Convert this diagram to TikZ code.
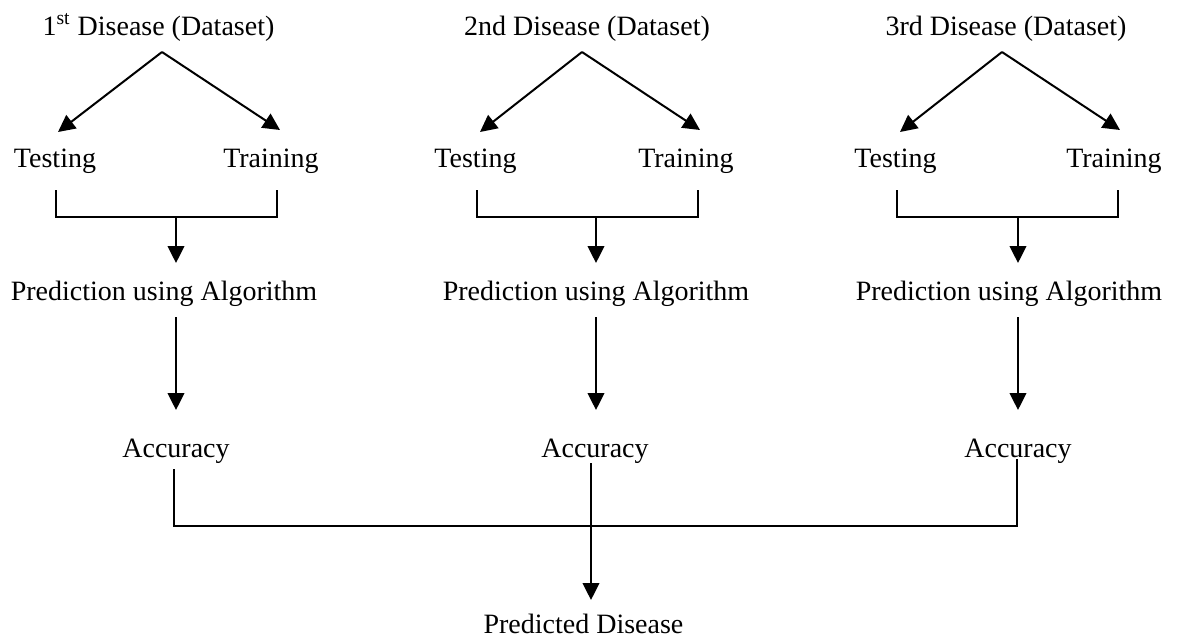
\documentclass[tikz,border=0pt]{standalone}
\usepackage{fontspec}
\setmainfont{Liberation Serif}
\usetikzlibrary{arrows.meta}
\begin{document}
\begin{tikzpicture}[x=0.5pt,y=-0.5pt,
  lbl/.style={anchor=base,inner sep=0pt,font=\fontsize{14}{16}\selectfont},
  ln/.style={line width=0.75pt},
  arr/.style={line width=1pt,-{Triangle[length=8.5pt,width=8.3pt]}}]
\useasboundingbox (0,0) rectangle (1185,639);
% column centres: titles, apexes
\node[lbl] (d1) at (158.5,35) {1\textsuperscript{st} Disease (Dataset)};
\node[lbl] (d2) at (587,35) {2nd Disease (Dataset)};
\node[lbl] (d3) at (1006,35) {3rd Disease (Dataset)};
\node[lbl] (te1) at (55,167) {Testing};
\node[lbl] (tr1) at (271,167) {Training};
\node[lbl] (te2) at (475.5,167) {Testing};
\node[lbl] (tr2) at (686,167) {Training};
\node[lbl] (te3) at (895.5,167) {Testing};
\node[lbl] (tr3) at (1114,167) {Training};
\node[lbl] (p1) at (164,300) {Prediction using Algorithm};
\node[lbl] (p2) at (596,300) {Prediction using Algorithm};
\node[lbl] (p3) at (1009,300) {Prediction using Algorithm};
\node[lbl] (a1) at (176,457) {Accuracy};
\node[lbl] (a2) at (595,457) {Accuracy};
\node[lbl] (a3) at (1018,457) {Accuracy};
\node[lbl] (pd) at (583.5,633) {Predicted Disease};
% split arrows
\foreach \i/\ax/\lx/\rx in {1/162/58/280, 2/582/480/700, 3/1002/900/1120}{
  \coordinate (ap\i) at (\ax,52);
  \coordinate (lt\i) at (\lx,132);
  \coordinate (rt\i) at (\rx,130);
  \draw[arr] (ap\i) -- (lt\i);
  \draw[arr] (ap\i) -- (rt\i);
}
% brackets and arrows to prediction
\foreach \i/\l/\r/\m in {1/56/277/176, 2/477/698/596, 3/897/1118/1018}{
  \coordinate (bl\i) at (\l,190);
  \coordinate (br\i) at (\r,190);
  \coordinate (bm\i) at (\m,217);
  \coordinate (pt\i) at (\m,263);
  \coordinate (ps\i) at (\m,317);
  \coordinate (at\i) at (\m,410);
  \draw[ln] (bl\i) |- (br\i |- bm\i) -- (br\i);
  \draw[arr] (bm\i) -- (pt\i);
  \draw[arr] (ps\i) -- (at\i);
}
% bottom collector
\coordinate (c1) at (174,469);
\coordinate (c2) at (591,463);
\coordinate (c3) at (1017,459);
\coordinate (h) at (591,526);
\coordinate (pdt) at (591,600);
\draw[ln] (c1) |- (c3 |- h) -- (c3);
\draw[ln] (c2) -- (h);
\draw[arr] (h) -- (pdt);
\end{tikzpicture}
\end{document}
